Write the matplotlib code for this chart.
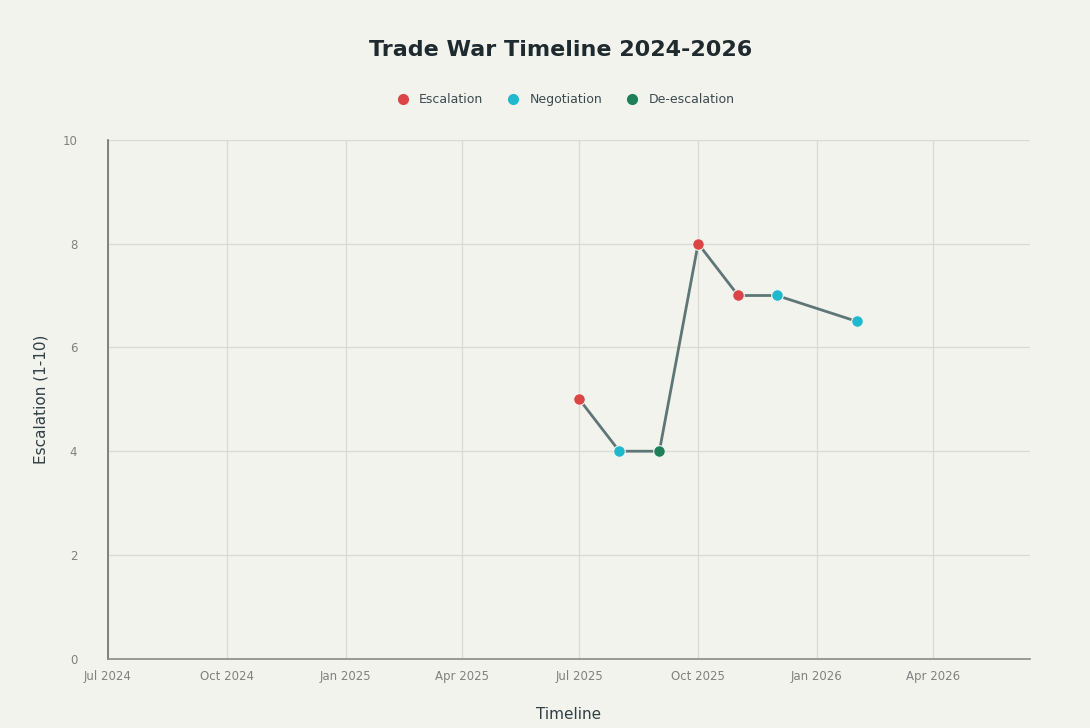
import numpy as np
import pandas as pd
import matplotlib.pyplot as plt
import matplotlib.dates as mdates
from matplotlib.lines import Line2D

# événements de la guerre commerciale
dates = ["2025-07-01", "2025-08-01", "2025-09-01", "2025-10-01",
         "2025-11-01", "2025-12-01", "2026-02-01"]
escalade = [5, 4, 4, 8, 7, 7, 6.5]
types = ["Escalation", "Negotiation", "De-escalation", "Escalation",
         "Escalation", "Negotiation", "Negotiation"]

categories = ["Escalation", "Negotiation", "De-escalation"]
couleurs = {"Escalation": "#DB4545", "Negotiation": "#1FB8CD", "De-escalation": "#1E7F5A"}

fond = "#F3F3EE"
df = pd.DataFrame({"date": pd.to_datetime(dates), "niveau": escalade, "type": types})

fig = plt.figure(figsize=(10.9, 7.28), dpi=100, facecolor=fond)
ax = fig.add_axes([0.099, 0.095, 0.846, 0.713], facecolor=fond)

ax.plot(df["date"], df["niveau"], color="#5F7676", linewidth=2, zorder=2)
for t in categories:
    sous = df[df["type"] == t]
    ax.scatter(sous["date"], sous["niveau"], s=70, color=couleurs[t],
               edgecolors=fond, linewidths=0.8, zorder=3)

ax.set_xlim(pd.Timestamp("2024-07-01"), pd.Timestamp("2026-06-15"))
ax.set_ylim(0, 10)
ax.set_yticks([0, 2, 4, 6, 8, 10])
ax.xaxis.set_major_locator(mdates.MonthLocator(bymonth=[1, 4, 7, 10]))
ax.xaxis.set_major_formatter(mdates.DateFormatter("%b %Y"))

ax.grid(True, color="#DADAD4", linewidth=0.9)
ax.set_axisbelow(True)
for s in ["top", "right"]:
    ax.spines[s].set_visible(False)
ax.spines["left"].set_color("#6E6E6E")
ax.spines["bottom"].set_color("#8A8A86")
ax.spines["left"].set_linewidth(1.2)
ax.spines["bottom"].set_linewidth(1.2)
ax.tick_params(axis="both", length=0, labelsize=8.5, labelcolor="#808080", pad=8)
ax.tick_params(axis="y", pad=22)

ax.set_xlabel("Timeline", fontsize=11, color="#2F3F44", labelpad=17)
ax.set_ylabel("Escalation (1-10)", fontsize=11, color="#2F3F44", labelpad=10)

fig.text(0.514, 0.931, "Trade War Timeline 2024-2026", ha="center", va="center",
         fontsize=16, fontweight="bold", color="#1F2A2E")

poignees = [Line2D([], [], marker="o", linestyle="", markersize=7,
                   markerfacecolor=couleurs[t], markeredgecolor=couleurs[t], label=t)
            for t in categories]
leg = fig.legend(handles=poignees, loc="center", bbox_to_anchor=(0.516, 0.863), ncol=3,
                 frameon=False, fontsize=9, handletextpad=0.3, columnspacing=1.4)
for txt in leg.get_texts():
    txt.set_color("#3A4A4E")

fig.savefig("out.png", dpi=100, facecolor=fond)
